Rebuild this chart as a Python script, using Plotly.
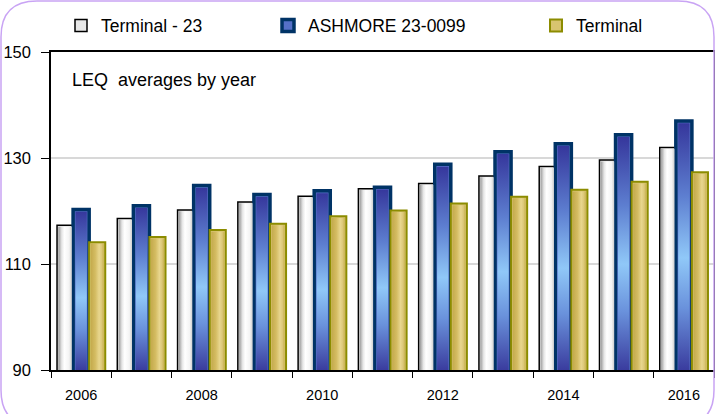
import plotly.graph_objects as go

# ---------------- data ----------------
years = [2006, 2007, 2008, 2009, 2010, 2011, 2012, 2013, 2014, 2015, 2016]
terminal_23 = [117.3, 118.6, 120.2, 121.7, 122.8, 124.2, 125.2, 126.6, 128.4, 129.6, 132.0]
ashmore = [120.3, 121.0, 124.8, 123.1, 123.8, 124.5, 128.8, 131.2, 132.7, 134.4, 137.0]
terminal = [114.1, 115.1, 116.4, 117.6, 119.0, 120.1, 121.4, 122.7, 124.0, 125.5, 127.3]
series_names = ["Terminal - 23", "ASHMORE 23-0099", "Terminal"]
x_label_years = years[::2]
y_ticks = [90, 110, 130, 150]
y_range = [90, 150]

# ---------------- layout constants ----------------
W, H = 715, 414
ML, MR, MT, MB = 51, 1, 52, 44
PW, PH = W - ML - MR, H - MT - MB
x_range = [years[0] - 0.5, years[-1] + 0.5]
px_per_x = PW / (x_range[1] - x_range[0])
px_per_y = PH / (y_range[1] - y_range[0])
bargap = 0.2
nser = 3
bw = (1 - bargap) / nser

styles = [
    dict(fill="#e8e8e8", line="#000000", lw=1.5, grad="horizontal",
         scale=[[0, "#9a9a9a"], [0.25, "#e6e6e6"], [0.45, "#ffffff"], [0.8, "#f4f4f4"], [1, "#cfcfcf"]]),
    dict(fill="#5570c8", line="#003366", lw=3.5, grad="vertical",
         scale=[[0, "#3a3c9e"], [0.25, "#6a92dc"], [0.45, "#90c8f8"], [0.7, "#5d7ed0"], [1, "#34349a"]]),
    dict(fill="#d8c470", line="#8c8c00", lw=2, grad="horizontal",
         scale=[[0, "#c4aa4c"], [0.35, "#d4bc62"], [0.65, "#e8d68e"], [0.85, "#dcc878"], [1, "#c8b050"]]),
]
data_series = [terminal_23, ashmore, terminal]
legend_ids = ["legend", "legend2", "legend3"]

fig = go.Figure()

# real bars
for k, (name, vals, st) in enumerate(zip(series_names, data_series, styles)):
    fig.add_trace(go.Bar(
        x=years, y=vals, name=name,
        marker=dict(color=st["fill"], line=dict(color=st["line"], width=st["lw"])),
        legend=legend_ids[k], hoverinfo="x+y+name",
    ))

# gradient shading inside each bar (derived from the same data and bar geometry)
for k, (vals, st) in enumerate(zip(data_series, styles)):
    inset_x = (st["lw"] / 2 + 0.6) / px_per_x
    inset_y = (st["lw"] / 2 + 0.6) / px_per_y
    for yr, v in zip(years, vals):
        x0 = yr - (1 - bargap) / 2 + k * bw + inset_x
        x1 = yr - (1 - bargap) / 2 + (k + 1) * bw - inset_x
        y0 = y_range[0]
        y1 = v - inset_y
        if st["grad"] == "horizontal":
            fg = dict(type="horizontal", colorscale=st["scale"], start=x0, stop=x1)
        else:
            fg = dict(type="vertical", colorscale=st["scale"], start=y0, stop=v)
        fig.add_trace(go.Scatter(
            x=[x0, x1, x1, x0, x0], y=[y0, y0, y1, y1, y0],
            mode="lines", line=dict(width=0), fill="toself",
            fillgradient=fg, showlegend=False, hoverinfo="skip",
        ))

def pxx(p):
    return (p - ML) / PW

def pxy(p):
    return (H - MB - p) / PH

# outer rounded frame
L_, T_, R_, B_, r = 1, 1, 714, 426, 36
path = (f"M {pxx(L_)},{pxy(T_ + r)} Q {pxx(L_)},{pxy(T_)} {pxx(L_ + r)},{pxy(T_)} "
        f"L {pxx(R_ - r)},{pxy(T_)} Q {pxx(R_)},{pxy(T_)} {pxx(R_)},{pxy(T_ + r)} "
        f"L {pxx(R_)},{pxy(B_ - r)} Q {pxx(R_)},{pxy(B_)} {pxx(R_ - r)},{pxy(B_)} "
        f"L {pxx(L_ + r)},{pxy(B_)} Q {pxx(L_)},{pxy(B_)} {pxx(L_)},{pxy(B_ - r)} Z")
fig.add_shape(type="path", xref="paper", yref="paper", path=path,
              line=dict(color="#c9a4f4", width=1.5), layer="above")

legend_font = dict(family="Liberation Sans, Arial, sans-serif", size=17.5, color="#000000")
def legend_at(left_px):
    return dict(x=pxx(left_px), xanchor="left", y=pxy(25.5), yanchor="middle",
                orientation="h", font=legend_font, bgcolor="rgba(0,0,0,0)",
                borderwidth=0, itemclick=False, itemdoubleclick=False)

tick_font_family = "Liberation Sans, Arial, sans-serif"

fig.update_layout(
    width=W, height=H,
    margin=dict(l=ML, r=MR, t=MT, b=MB, pad=0, autoexpand=False),
    paper_bgcolor="#ffffff", plot_bgcolor="#ffffff",
    barmode="group", bargap=bargap, bargroupgap=0,
    showlegend=True,
    legend=legend_at(61),
    legend2=legend_at(268),
    legend3=legend_at(536),
    xaxis=dict(
        range=x_range, type="linear", automargin=False,
        tickvals=x_label_years, ticktext=[str(y) for y in x_label_years],
        ticks="", ticklabelstandoff=11,
        tickfont=dict(family=tick_font_family, size=14.5, color="#000000"),
        showgrid=False, zeroline=False,
        showline=True, linecolor="#000000", linewidth=1.5, mirror=True,
        minor=dict(tickvals=[y - 0.5 for y in years] + [years[-1] + 0.5],
                   ticks="outside", ticklen=6, tickcolor="#000000", tickwidth=1.2,
                   showgrid=False),
        fixedrange=True,
    ),
    yaxis=dict(
        range=y_range, tickvals=y_ticks, automargin=False,
        ticks="outside", ticklen=8, tickcolor="#000000", tickwidth=1.2,
        ticklabelstandoff=7,
        tickfont=dict(family=tick_font_family, size=16.5, color="#000000"),
        showgrid=True, gridcolor="#d8d8d8", gridwidth=1.5,
        zeroline=False,
        showline=True, linecolor="#000000", linewidth=1.5, mirror=True,
        fixedrange=True,
    ),
    annotations=[dict(
        text="LEQ\u00a0 averages by year", xref="paper", yref="paper",
        x=pxx(70), y=pxy(80), xanchor="left", yanchor="middle", showarrow=False,
        font=dict(family="Liberation Sans, Arial, sans-serif", size=18, color="#000000"),
    )],
)

fig.write_html("out.html", config={"displayModeBar": False},
               post_script="document.body.style.margin='0';document.body.style.overflow='hidden';")
